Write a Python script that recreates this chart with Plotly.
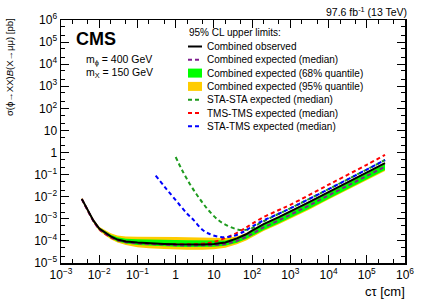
import plotly.graph_objects as go

# ---- data ----
ctau = [0.0035, 0.005, 0.007, 0.01, 0.015, 0.02, 0.03, 0.05, 0.1, 0.2, 0.5, 1, 2, 5, 10, 20, 40, 70,
        100, 200, 500, 1000, 3000, 1e4, 3e4, 1e5, 3e5]
observed = [8e-3, 2.5e-3, 8.5e-4, 3.6e-4, 2.2e-4, 1.6e-4, 1.15e-4, 9.5e-5, 8.5e-5, 7.8e-5, 7.3e-5, 7e-5,
            6.8e-5, 6.8e-5, 7.2e-5, 8.5e-5, 1.3e-4, 2e-4, 2.9e-4, 5.8e-4, 1.2e-3, 2.1e-3, 5.5e-3,
            0.016, 0.043, 0.125, 0.33]
exp_median = [7.6e-3, 2.3e-3, 8e-4, 3.4e-4, 2.05e-4, 1.5e-4, 1.07e-4, 8.8e-5, 7.8e-5, 7.2e-5, 6.7e-5,
              6.4e-5, 6.2e-5, 6.2e-5, 6.4e-5, 7.2e-5, 1e-4, 1.5e-4, 2.1e-4, 4.1e-4, 8.5e-4, 1.5e-3,
              3.9e-3, 0.0115, 0.031, 0.09, 0.23]
exp68_lo = [7.1e-3, 2.15e-3, 7.4e-4, 3.1e-4, 1.85e-4, 1.35e-4, 9.5e-5, 7.6e-5, 6.6e-5, 6.1e-5, 5.7e-5,
            5.5e-5, 5.3e-5, 5.3e-5, 5.4e-5, 6.0e-5, 8.3e-5, 1.22e-4, 1.7e-4, 3.1e-4, 6.3e-4, 1.1e-3,
            2.8e-3, 8.2e-3, 0.022, 0.064, 0.164]
exp68_hi = [8.4e-3, 2.6e-3, 9.2e-4, 4.0e-4, 2.5e-4, 1.9e-4, 1.45e-4, 1.25e-4, 1.2e-4, 1.15e-4, 1.12e-4,
            1.1e-4, 1.08e-4, 1.06e-4, 1.05e-4, 1.05e-4, 1.35e-4, 2e-4, 2.8e-4, 5.4e-4, 1.12e-3, 2e-3,
            5.2e-3, 0.0153, 0.041, 0.12, 0.305]
exp95_lo = [6.6e-3, 2.0e-3, 6.8e-4, 2.8e-4, 1.65e-4, 1.2e-4, 8.5e-5, 6.5e-5, 5.2e-5, 4.6e-5, 4.3e-5,
            4.1e-5, 4.0e-5, 4.0e-5, 4.2e-5, 4.9e-5, 7e-5, 1.05e-4, 1.5e-4, 2.8e-4, 5.7e-4, 1e-3,
            2.5e-3, 7.4e-3, 0.02, 0.058, 0.148]
exp95_hi = [9e-3, 2.8e-3, 1.0e-3, 4.4e-4, 2.8e-4, 2.2e-4, 1.75e-4, 1.6e-4, 1.55e-4, 1.5e-4, 1.5e-4,
            1.5e-4, 1.48e-4, 1.45e-4, 1.4e-4, 1.35e-4, 1.6e-4, 2.3e-4, 3.2e-4, 6.2e-4, 1.3e-3, 2.3e-3,
            6e-3, 0.0175, 0.047, 0.137, 0.35]

sta_sta_ctau = [1.0, 1.5, 2.3, 3.5, 5.2, 8, 12.8, 20, 39, 63, 100, 140, 300, 1000, 1e4, 1e5, 3e5]
sta_sta = [0.63, 0.15, 0.04, 0.013, 5e-3, 2e-3, 9e-4, 5.5e-4, 3.4e-4, 3.1e-4, 3.8e-4, 5.5e-4, 1.1e-3,
           3e-3, 0.022, 0.17, 0.46]

tms_tms_ctau = [0.0035, 0.005, 0.007, 0.01, 0.017, 0.03, 0.1, 1, 5, 10, 20, 40, 70, 100, 200, 500,
                1000, 1e4, 1e5, 3e5]
tms_tms = [8e-3, 2.4e-3, 8.2e-4, 3.4e-4, 1.7e-4, 1.1e-4, 8e-5, 7e-5, 7.5e-5, 9e-5, 1.35e-4, 2.3e-4,
           4e-4, 6e-4, 1.2e-3, 2.5e-3, 4.3e-3, 0.035, 0.28, 0.78]

sta_tms_ctau = [0.3, 0.5, 1, 2, 3, 5, 8, 15, 30, 60, 100, 200, 500, 1000, 1e4, 1e5, 3e5]
sta_tms = [0.09, 0.03, 7e-3, 1.7e-3, 8.5e-4, 3.2e-4, 2e-4, 1.5e-4, 1.6e-4, 2.6e-4, 4.5e-4, 8.5e-4,
           1.7e-3, 3e-3, 0.022, 0.17, 0.46]

x_tickvals = [1e-3, 1e-2, 1e-1, 1, 10, 1e2, 1e3, 1e4, 1e5, 1e6]
x_ticktext = ["10<sup>\u22123</sup>", "10<sup>\u22122</sup>", "10<sup>\u22121</sup>", "1", "10",
              "10<sup>2</sup>", "10<sup>3</sup>", "10<sup>4</sup>", "10<sup>5</sup>", "10<sup>6</sup>"]
y_tickvals = [1e-5, 1e-4, 1e-3, 1e-2, 1e-1, 1, 10, 1e2, 1e3, 1e4, 1e5, 1e6]
y_ticktext = ["10<sup>\u22125</sup>", "10<sup>\u22124</sup>", "10<sup>\u22123</sup>", "10<sup>\u22122</sup>",
              "10<sup>\u22121</sup>", "1", "10", "10<sup>2</sup>", "10<sup>3</sup>", "10<sup>4</sup>",
              "10<sup>5</sup>", "10<sup>6</sup>"]

legend_title = "95% CL upper limits:"
legend_labels = ["Combined observed", "Combined expected (median)", "Combined expected (68% quantile)",
                 "Combined expected (95% quantile)", "STA-STA expected (median)",
                 "TMS-TMS expected (median)", "STA-TMS expected (median)"]

FONT = "Liberation Sans, Arial, sans-serif"
DASH = "4px,3px"
C_OBS, C_MED, C_68, C_95 = "black", "#7F1F8F", "#00FF00", "#FFCC00"
C_SS, C_TT, C_ST = "#1E9B1E", "#FF0000", "#0000FF"

fig = go.Figure()
fig.add_trace(go.Scatter(x=ctau, y=exp95_lo, mode="lines", line=dict(width=0, color=C_95),
                         showlegend=False, hoverinfo="skip"))
fig.add_trace(go.Scatter(x=ctau, y=exp95_hi, mode="lines", line=dict(width=0, color=C_95),
                         fill="tonexty", fillcolor=C_95, name=legend_labels[3], showlegend=False))
fig.add_trace(go.Scatter(x=ctau, y=exp68_lo, mode="lines", line=dict(width=0, color=C_68),
                         showlegend=False, hoverinfo="skip"))
fig.add_trace(go.Scatter(x=ctau, y=exp68_hi, mode="lines", line=dict(width=0, color=C_68),
                         fill="tonexty", fillcolor=C_68, name=legend_labels[2], showlegend=False))
fig.add_trace(go.Scatter(x=sta_sta_ctau, y=sta_sta, mode="lines", name=legend_labels[4], showlegend=False,
                         line=dict(color=C_SS, width=2, dash=DASH, shape="spline")))
fig.add_trace(go.Scatter(x=tms_tms_ctau, y=tms_tms, mode="lines", name=legend_labels[5], showlegend=False,
                         line=dict(color=C_TT, width=2, dash=DASH, shape="spline")))
fig.add_trace(go.Scatter(x=sta_tms_ctau, y=sta_tms, mode="lines", name=legend_labels[6], showlegend=False,
                         line=dict(color=C_ST, width=2, dash=DASH, shape="spline")))
fig.add_trace(go.Scatter(x=ctau, y=exp_median, mode="lines", name=legend_labels[1], showlegend=False,
                         line=dict(color=C_MED, width=2, dash=DASH)))
fig.add_trace(go.Scatter(x=ctau, y=observed, mode="lines", name=legend_labels[0], showlegend=False,
                         line=dict(color=C_OBS, width=2)))

axis_common = dict(
    type="log", showgrid=False, zeroline=False, showline=True, linecolor="black", linewidth=1.5,
    mirror="allticks", ticks="inside", ticklen=8, tickwidth=1, tickcolor="black", automargin=False,
    tickfont=dict(family=FONT, size=12, color="black"),
    minor=dict(ticks="inside", ticklen=4, tickwidth=1, tickcolor="black", showgrid=False),
)
fig.update_xaxes(range=[-3, 6], tickvals=x_tickvals, ticktext=x_ticktext, **axis_common)
fig.update_yaxes(range=[-5, 6], tickvals=y_tickvals, ticktext=y_ticktext, **axis_common)

# plot-area geometry in window pixels
L, R, T, B = 61, 405, 20, 263
W, H = 424, 304
def px(xp):
    return (xp - L) / (R - L)
def py(yp):
    return (B - yp) / (B - T)

annotations = [
    dict(text="<b>CMS</b>", x=px(74), y=py(38.5), xanchor="left", yanchor="middle",
         font=dict(family=FONT, size=18, color="black")),
    dict(text="m<sub>\u03d5</sub> = 400 GeV", x=px(84), y=py(60), xanchor="left", yanchor="middle",
         font=dict(family=FONT, size=10.5)),
    dict(text="m<sub>X</sub> = 150 GeV", x=px(84), y=py(73), xanchor="left", yanchor="middle",
         font=dict(family=FONT, size=10.5)),
    dict(text="97.6 fb<sup>-1</sup> (13 TeV)", x=px(409), y=py(11), xanchor="right", yanchor="middle",
         font=dict(family=FONT, size=10.5)),
    dict(text="c\u03c4 [cm]", x=px(407), y=py(291), xanchor="right", yanchor="middle",
         font=dict(family=FONT, size=13)),
    dict(text="\u03c3(\u03d5\u2192XX)<i>B</i>(X\u2192\u03bc\u03bc) [pb]", x=px(9), y=py(16),
         xanchor="center", yanchor="top", textangle=-90, font=dict(family=FONT, size=9.5)),
    dict(text=legend_title, x=px(187), y=py(33), xanchor="left", yanchor="middle",
         font=dict(family=FONT, size=10)),
]
shapes = []
row_y = [46.5 + 13.3 * i for i in range(len(legend_labels))]
styles = [("line", C_OBS, None), ("line", C_MED, DASH), ("rect", C_68, None), ("rect", C_95, None),
          ("line", C_SS, DASH), ("line", C_TT, DASH), ("line", C_ST, DASH)]
for label, yy, (kind, col, dash) in zip(legend_labels, row_y, styles):
    annotations.append(dict(text=label, x=px(205), y=py(yy), xanchor="left", yanchor="middle",
                            font=dict(family=FONT, size=10)))
    if kind == "line":
        shapes.append(dict(type="line", xref="paper", yref="paper", x0=px(188), x1=px(202),
                           y0=py(yy), y1=py(yy), line=dict(color=col, width=2, dash=dash)))
    else:
        shapes.append(dict(type="rect", xref="paper", yref="paper", x0=px(188), x1=px(202),
                           y0=py(yy + 4.5), y1=py(yy - 4.5), line=dict(width=0), fillcolor=col))
for a in annotations:
    a.update(xref="paper", yref="paper", showarrow=False)

fig.update_layout(
    width=W, height=H,
    margin=dict(l=L, r=W - R, t=T, b=H - B, autoexpand=False),
    paper_bgcolor="white", plot_bgcolor="white",
    font=dict(family=FONT, color="black"),
    showlegend=False, hovermode=False,
    annotations=annotations, shapes=shapes,
)

# remove the browser's default 8px page margin so the figure fills the window exactly
fig.write_html("out.html", config={"displayModeBar": False, "staticPlot": True},
               post_script="document.body.style.margin='0';document.body.style.overflow='hidden';")
